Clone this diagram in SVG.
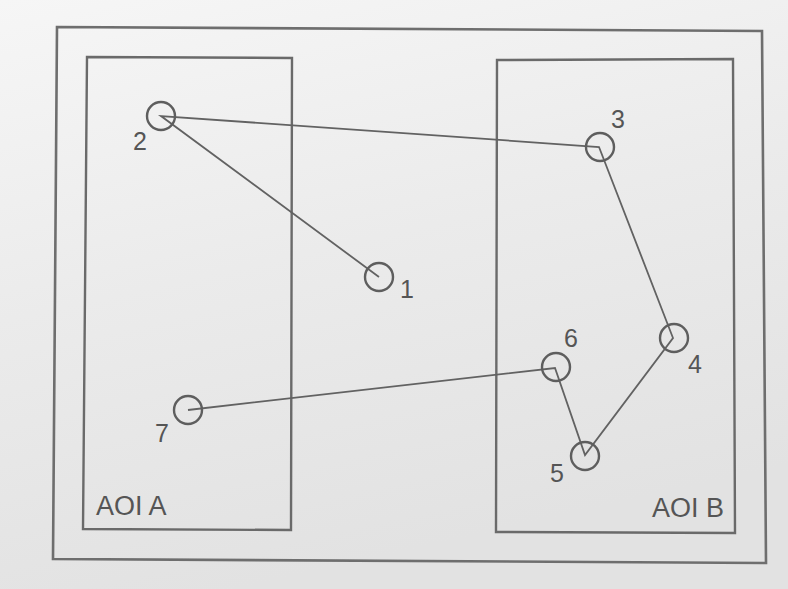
<svg xmlns="http://www.w3.org/2000/svg" width="788" height="589" viewBox="0 0 788 589">
  <defs>
    <linearGradient id="paper" x1="0" y1="0" x2="0.3" y2="1">
      <stop offset="0" stop-color="#f6f6f6"/>
      <stop offset="0.5" stop-color="#ebebeb"/>
      <stop offset="1" stop-color="#e2e2e2"/>
    </linearGradient>
    <style>
      .frame { fill: none; stroke: #6e6e6e; stroke-width: 2.6; stroke-linejoin: miter; }
      .aoi { fill: none; stroke: #6a6a6a; stroke-width: 2.4; }
      .fix { fill: none; stroke: #5e5e5e; stroke-width: 2.4; }
      .path { fill: none; stroke: #626262; stroke-width: 1.8; stroke-linejoin: miter; }
      .num { font-family: "Liberation Sans", Arial, sans-serif; font-size: 25px; fill: #555; text-anchor: middle; }
      .lbl { font-family: "Liberation Sans", Arial, sans-serif; font-size: 27px; fill: #555; }
    </style>
  </defs>

  <!-- page background -->
  <rect x="0" y="0" width="788" height="589" fill="url(#paper)"/>

  <!-- outer display frame -->
  <polygon class="frame" points="57,27 762,31 766,563 53,559"/>

  <!-- areas of interest -->
  <g id="aoi-a">
    <polygon class="aoi" points="87,57 292,58 291,530 83,529"/>
    <text class="lbl" x="96" y="515">AOI A</text>
  </g>
  <g id="aoi-b">
    <polygon class="aoi" points="497,60 733,59 735,533 496,532"/>
    <text class="lbl" x="652" y="517">AOI B</text>
  </g>

  <!-- scanpath between fixations -->
  <g id="connectors">
    <polyline class="path" points="379,277 161,116 599,147 673,338 585,455 555,368 188,410"/>
  </g>

  <!-- fixations -->
  <g id="fix-1">
    <circle class="fix" cx="379" cy="277" r="14"/>
    <text class="num" x="407" y="298">1</text>
  </g>
  <g id="fix-2">
    <circle class="fix" cx="161" cy="116" r="14"/>
    <text class="num" x="140" y="150">2</text>
  </g>
  <g id="fix-3">
    <circle class="fix" cx="600" cy="147" r="14"/>
    <text class="num" x="618" y="128">3</text>
  </g>
  <g id="fix-4">
    <circle class="fix" cx="674" cy="338" r="14"/>
    <text class="num" x="695" y="373">4</text>
  </g>
  <g id="fix-5">
    <circle class="fix" cx="585" cy="456" r="14"/>
    <text class="num" x="557" y="482">5</text>
  </g>
  <g id="fix-6">
    <circle class="fix" cx="556" cy="367" r="14"/>
    <text class="num" x="571" y="347">6</text>
  </g>
  <g id="fix-7">
    <circle class="fix" cx="188" cy="410" r="14"/>
    <text class="num" x="162" y="442">7</text>
  </g>
</svg>
